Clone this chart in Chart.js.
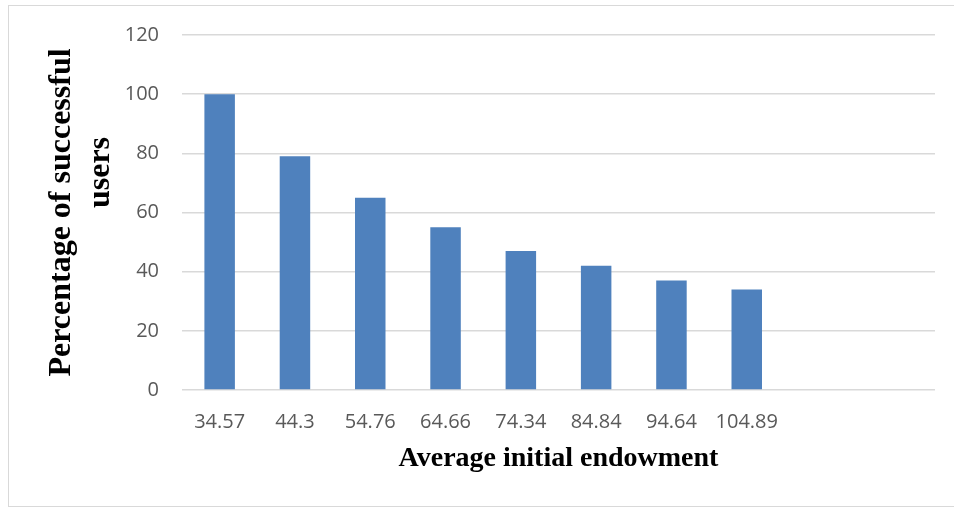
<!DOCTYPE html>
<html>
<head>
<meta charset="utf-8">
<script src="https://cdn.jsdelivr.net/npm/chart.js@4/dist/chart.umd.min.js"></script>
<style>
  html, body { margin: 0; padding: 0; background: #fff; }
  body { width: 954px; height: 508px; position: relative; overflow: hidden; }
  #frame { position: absolute; left: 8px; top: 5px; width: 960px; height: 502px; border: 1px solid #d9d9d9; box-sizing: border-box; }
  #c { position: absolute; left: 0; top: 0; }
</style>
</head>
<body>
<div id="frame"></div>
<canvas id="c" width="954" height="508"></canvas>
<script>
// Share of users who succeed, by average initial endowment
const categories = ['34.57', '44.3', '54.76', '64.66', '74.34', '84.84', '94.64', '104.89', '', ''];
const successRate = [100, 79, 65, 55, 47, 42, 37, 34, null, null];
const yTicks = [0, 20, 40, 60, 80, 100, 120];

const xTitle = 'Average initial endowment';
const yTitle = ['Percentage of successful', '          users'];

new Chart(document.getElementById('c'), {
  type: 'bar',
  data: {
    labels: categories,
    datasets: [{
      data: successRate,
      backgroundColor: '#4F81BD',
      borderWidth: 0,
      barPercentage: 0.405,
      categoryPercentage: 1
    }]
  },
  options: {
    responsive: false,
    animation: false,
    layout: { padding: { top: 34, right: 19, left: 0, bottom: 0 } },
    plugins: { legend: { display: false }, tooltip: { enabled: false } },
    scales: {
      x: {
        grid: { display: false },
        border: { display: false },
        ticks: {
          color: '#595959',
          font: { family: 'Open Sans', size: 20 },
          padding: 12,
          maxRotation: 0,
          autoSkip: false
        },
        title: {
          display: true,
          text: xTitle,
          color: '#000',
          font: { family: 'Liberation Serif', size: 28, weight: 'bold', lineHeight: 1.2 },
          padding: { top: 0, bottom: 32 }
        },
        afterFit: (s) => { s.height = 118; }
      },
      y: {
        min: 0,
        max: yTicks[yTicks.length - 1],
        border: { display: false },
        grid: { color: '#d9d9d9', lineWidth: 1.5, drawTicks: false },
        ticks: {
          stepSize: yTicks[1] - yTicks[0],
          color: '#595959',
          font: { family: 'Open Sans', size: 20 },
          padding: 23
        },
        title: {
          display: true,
          text: yTitle,
          color: '#000',
          font: { family: 'Liberation Serif', size: 32, weight: 'bold', lineHeight: 1.2 },
          padding: { top: 43, bottom: 0 }
        },
        afterFit: (s) => { s.width = 182; }
      }
    }
  }
});
</script>
</body>
</html>
